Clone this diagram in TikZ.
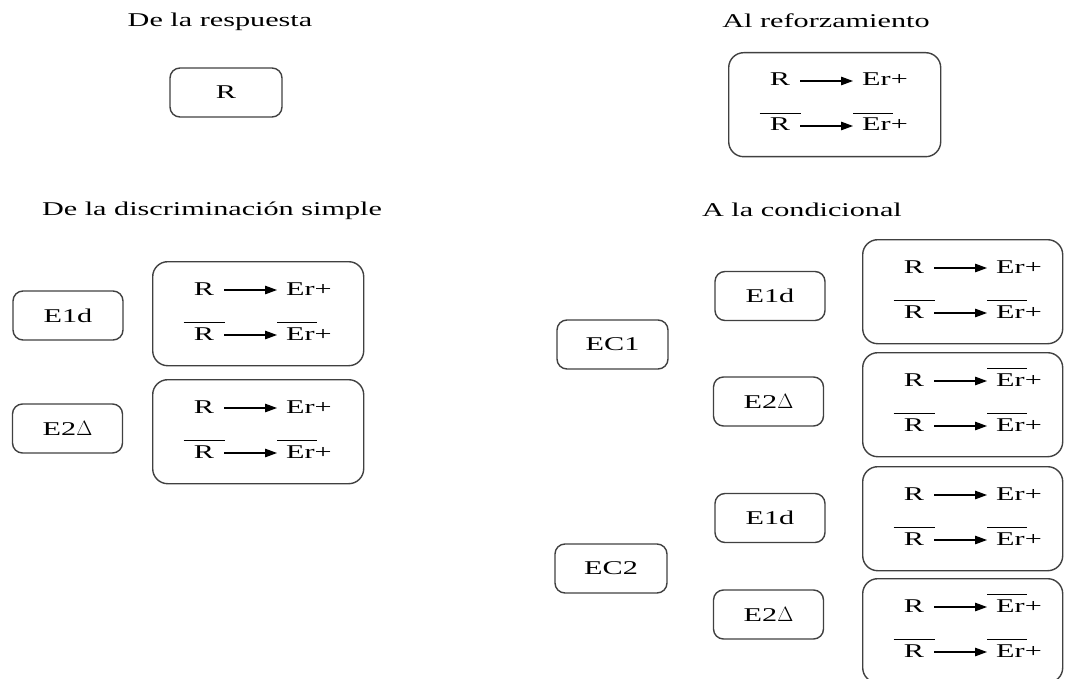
\documentclass[tikz,border=0pt]{standalone}
\usepackage{fontspec}
\setmainfont{Liberation Serif}[FakeStretch=1.55]
\usetikzlibrary{arrows.meta,calc}

\definecolor{frame}{HTML}{404040}

\tikzset{
  lbl/.style={inner sep=0pt, text height=10pt, text depth=0pt, font=\fontsize{19.5}{23}\selectfont},
  ttl/.style={inner sep=0pt, anchor=base, font=\fontsize{19.5}{23}\selectfont},
  sbox/.style={draw=frame, line width=1.4pt, rounded corners=10pt, minimum width=110pt,
               minimum height=49pt, inner sep=0pt, font=\fontsize{19.5}{23}\selectfont},
  bigbox/.style={draw=frame, line width=1.4pt, rounded corners=15pt, anchor=north west, inner sep=0pt},
  arr/.style={line width=1.2pt, -{Triangle[length=12pt,width=8.5pt]}, shorten <=10pt, shorten >=9pt},
  bar/.style={line width=1.2pt}
}

% one line "R -> Er+" inside a box; #1 box, #2 row id, #3 baseline offset,
% #4 bar over R (0/1), #5 bar over Er (0/1)
\newcommand\pairrow[5]{%
  \path (#1.north west) ++(52,#3) node[lbl,anchor=base] (#1#2r) {R}
        ++(105,0) node[lbl,anchor=base] (#1#2e) {Er+};
  \draw[arr] (#1#2r) -- (#1#2e);
  \ifnum#4=1 \draw[bar] ($(#1#2r.base)+(-20.5,-17.5)$) -- ++(41,0);\fi
  \ifnum#5=1 \draw[bar] ($(#1#2e.base)+(-32,-17.5)$) -- ++(40,0);\fi
}
% a contingency box with two lines; #1 name, #2 top-left, #3 width, #4 first Er barred
\newcommand\contbox[4]{%
  \node[bigbox, minimum width=#3pt, minimum height=104pt] (#1) at (#2) {};
  \pairrow{#1}{a}{34}{0}{#4}
  \pairrow{#1}{b}{79}{1}{1}
}

\begin{document}
\begin{tikzpicture}[x=1pt,y=-1pt]
\useasboundingbox (0,0) rectangle (1065,679);
\clip (0,0) rectangle (1065,679);

% titles
\node[ttl] (t1) at (220,27) {De la respuesta};
\node[ttl] (t2) at (826,28) {Al reforzamiento};
\node[ttl] (t3) at (212,215) {De la discriminación simple};
\node[ttl] (t4) at (802,217) {A la condicional};

% response
\node[sbox, minimum width=112pt] (resp) at (226,92.5) {R};

% reinforcement
\contbox{TR}{728,52}{212}{0}

% simple discrimination
\node[sbox] (ld1) at (68,315.5) {E1d};
\node[sbox] (ld2) at (67.5,428.5) {E2$\Delta$};
\contbox{L1}{152,261}{211}{0}
\contbox{L2}{152,379}{211}{0}

% conditional discrimination
\node[sbox, minimum width=111pt] (ec1) at (612.5,344.5) {EC1};
\node[sbox] (c1d) at (770,296) {E1d};
\node[sbox] (c1e) at (768.5,401.5) {E2$\Delta$};
\node[sbox, minimum width=112pt] (ec2) at (611,568.5) {EC2};
\node[sbox] (c2d) at (770,518) {E1d};
\node[sbox] (c2e) at (768.5,614.5) {E2$\Delta$};
\contbox{R1}{862,239}{200}{0}
\contbox{R2}{862,352}{200}{1}
\contbox{R3}{862,466}{200}{0}
\contbox{R4}{862,578}{200}{1}
\end{tikzpicture}
\end{document}
